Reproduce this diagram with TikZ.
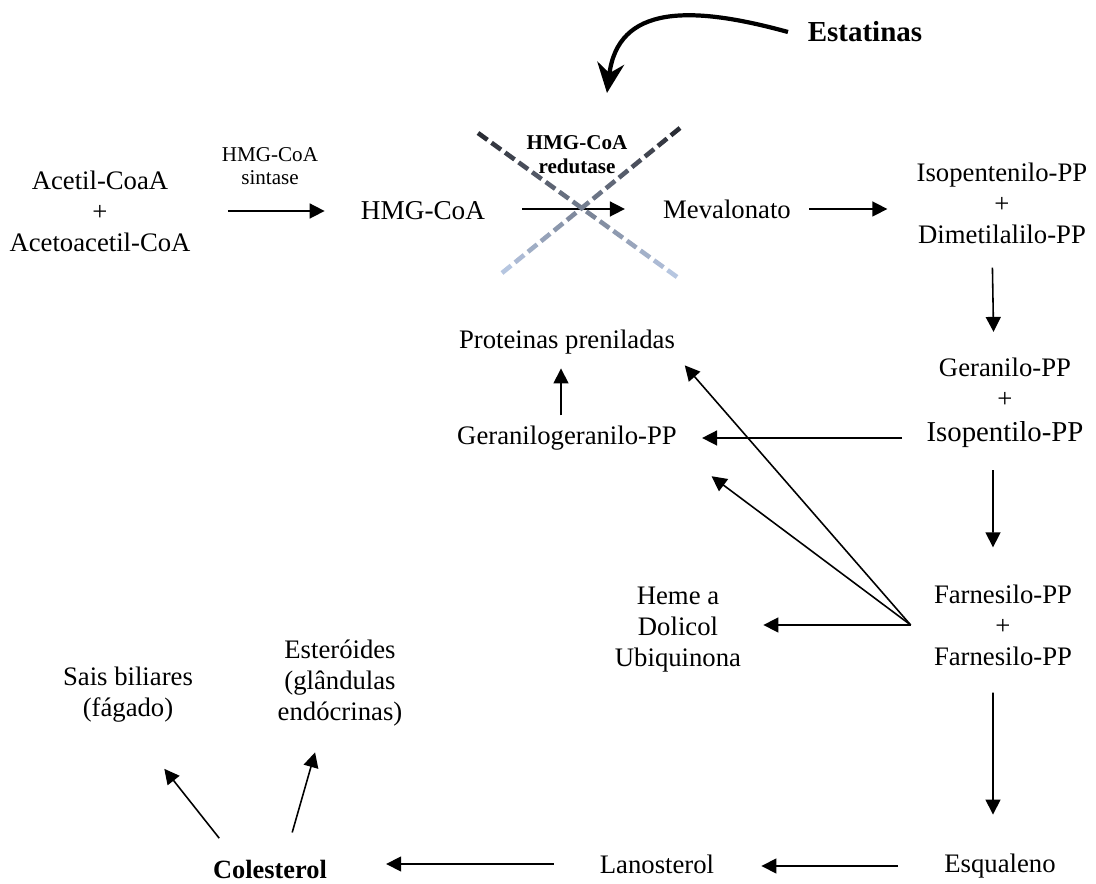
\documentclass[tikz,border=0pt]{standalone}
\usepackage{fontspec}
\setmainfont{Liberation Serif}
\usetikzlibrary{arrows.meta,calc}
\definecolor{crossdark}{RGB}{38,40,48}
\definecolor{crosslight}{RGB}{185,201,228}

\tikzset{
  lbl/.style={font=\fontsize{15.2}{17.6}\selectfont, align=center, inner sep=0pt},
  enzlbl/.style={font=\fontsize{12}{13.4}\selectfont, align=center, inner sep=0pt},
  flow/.style={-{Triangle[length=3mm,width=3mm]}, line width=0.9pt},
  inhib/.style={-{Stealth[length=6mm,width=5.4mm,inset=2mm]}, line width=2.4pt},
  cross/.style={line width=2.6pt},
}

\begin{document}
\begin{tikzpicture}[x=0.02cm, y=-0.02cm]
  \useasboundingbox (0,0) rectangle (1096,884);
  % Top row
  \node[lbl] (acetil) at (100,211) {Acetil-CoaA\\+\\Acetoacetil-CoA};
  \node[enzlbl] (sintase) at (270,166) {HMG-CoA\\sintase};
  \node[lbl, font=\fontsize{15.5}{18}\selectfont] (hmgcoa) at (423,211) {HMG-CoA};
  \node[enzlbl, font=\fontsize{12}{13.6}\selectfont\bfseries] (redutase) at (577,155) {HMG-CoA\\redutase};
  \node[lbl] (meval) at (727,209) {Mevalonato};
  \node[lbl] (isopent) at (1002,203) {Isopentenilo-PP\\+\\Dimetilalilo-PP};
  \node[lbl, font=\fontsize{16.5}{19}\selectfont\bfseries] (estat) at (865,32) {Estatinas};
  % Right column
  \node[lbl] (geranil) at (1005,403) {Geranilo-PP\\+\\[0.6mm]{\fontsize{16.4}{19}\selectfont Isopentilo-PP}};
  \node[lbl] (farnes) at (1003,625) {Farnesilo-PP\\+\\Farnesilo-PP};
  \node[lbl] (esqual) at (1000,866) {Esqualeno};
  % Middle
  \node[lbl] (protein) at (567,342) {Proteinas preniladas};
  \node[lbl] (ggpp) at (567,438) {Geranilogeranilo-PP};
  \node[lbl] (heme) at (678,630) {Heme a\\Dolicol\\Ubiquinona};
  \node[lbl] (lanost) at (657,864) {Lanosterol};
  % Bottom left
  \node[lbl, font=\fontsize{15}{17.6}\selectfont\bfseries] (colest) at (270,869) {Colesterol};
  \node[lbl] (sais) at (128,695) {Sais biliares\\(fágado)};
  \node[lbl] (esteroid) at (340,683) {Esteróides\\(glândulas\\endócrinas)};

  % Pathway arrows
  \draw[flow, shorten <=7.4mm, shorten >=7.2mm] (acetil.east |- hmgcoa.west) -- (hmgcoa.west);
  \draw[flow, shorten <=7.4mm, shorten >=7.6mm] (hmgcoa.east |- meval.west) -- (meval.west);
  \draw[flow, shorten <=3.6mm, shorten >=5.8mm] (meval.east) -- (meval.east -| isopent.west);
  \draw[flow, shorten <=4.8mm, shorten >=5.2mm] ([xshift=-2mm]isopent.south) -- ([xshift=-2.2mm]geranil.north);
  \draw[flow, shorten <=4.8mm, shorten >=5mm] (ggpp.east -| geranil.west) -- (ggpp.east);
  \draw[flow, shorten <=2mm, shorten >=2.8mm] ([xshift=-1.2mm]ggpp.north) -- ([xshift=-1.2mm]protein.south);
  \draw[flow, shorten <=4.4mm, shorten >=7.4mm] ([xshift=-2.4mm]geranil.south) -- ([xshift=-2mm]farnes.north);
  \coordinate (fan) at ([xshift=-4.6mm]farnes.west);
  \draw[flow, shorten >=2.9mm] (fan) -- (protein.south east);
  \draw[flow, shorten >=8.6mm] (fan) -- (ggpp.south east);
  \draw[flow, shorten >=4.4mm] (fan) -- (fan -| heme.east);
  \draw[flow, shorten <=5.4mm, shorten >=7.8mm] ([xshift=-2mm]farnes.south) -- ([xshift=-1.4mm]esqual.north);
  \draw[flow, shorten <=9.2mm, shorten >=9.4mm] (esqual.west) -- (esqual.west -| lanost.east);
  \draw[flow, shorten <=9.2mm, shorten >=11.8mm] (lanost.west) -- (lanost.west -| colest.east);
  \draw[flow, shorten <=5.4mm, shorten >=11.7mm] ([xshift=-6.8mm]colest.north) -- (sais.south);
  \draw[flow, shorten <=5.6mm, shorten >=5.4mm] ([xshift=2.9mm]colest.north) -- ([xshift=-3.5mm]esteroid.south);

  % Statin block
  \coordinate (estat-start) at ([xshift=-3.9mm]estat.west);
  \coordinate (estat-tip) at (607,93);
  \draw[inhib] (estat-start) .. controls (690,5) and (618,5) .. (estat-tip);
  \coordinate (xa1) at (478,133);
  \coordinate (xa2) at (677,277);
  \coordinate (xb1) at (680,128);
  \coordinate (xb2) at (502,273);
  \foreach \ya/\yb/\n in {xa1/xa2/15, xb1/xb2/14}{
    \foreach \k in {1,...,\n}{
      \pgfmathsetmacro\ta{(\k-1)/(\n-0.3)}
      \pgfmathsetmacro\tb{(\k-0.3)/(\n-0.3)}
      \pgfmathtruncatemacro\pct{100-100*(\ta+\tb)/2}
      \draw[cross, crossdark!\pct!crosslight] ($(\ya)!\ta!(\yb)$) -- ($(\ya)!\tb!(\yb)$);
    }
  }
\end{tikzpicture}
\end{document}
